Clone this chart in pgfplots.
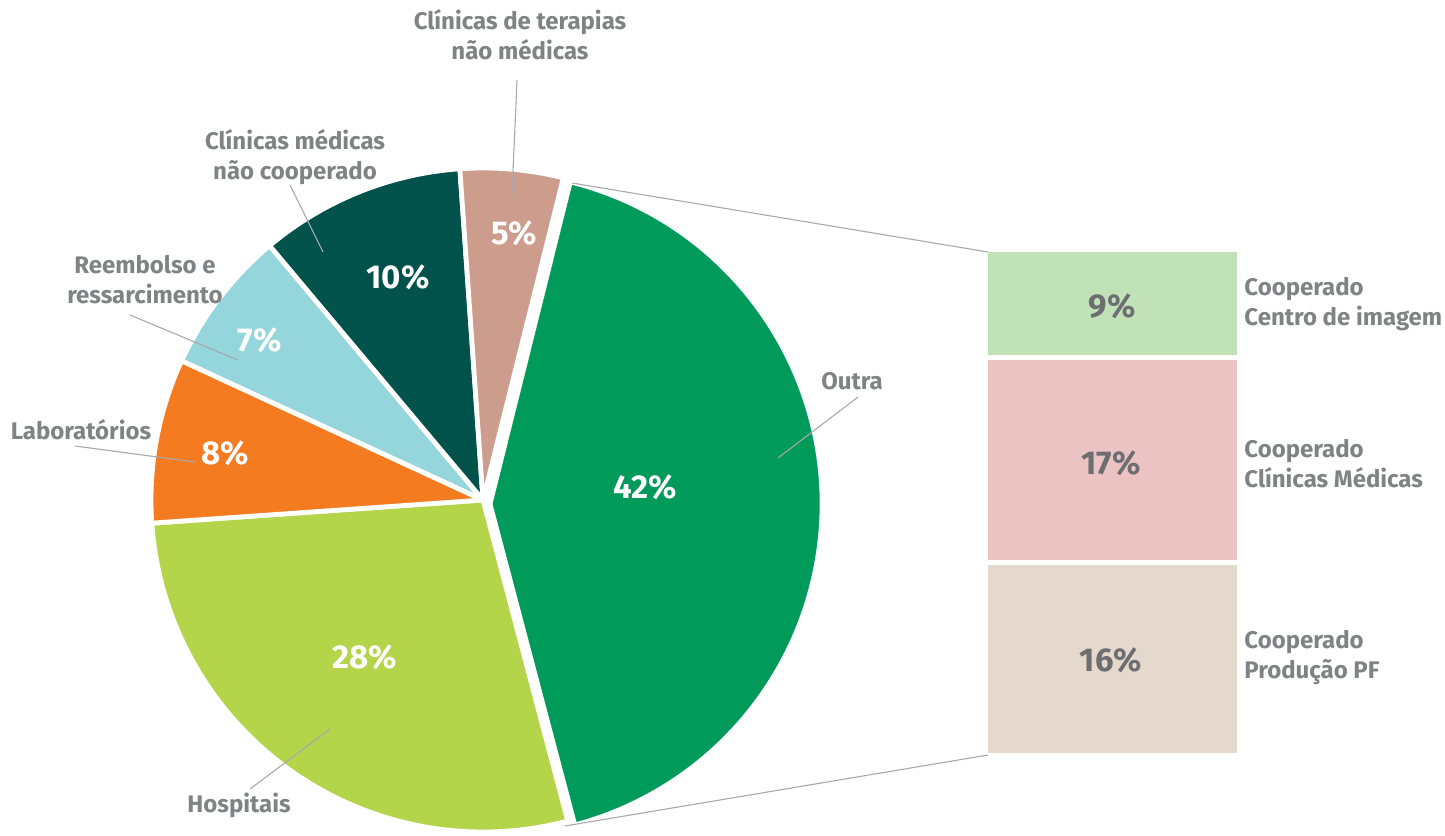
\documentclass[border=0pt]{standalone}
\usepackage{fontspec}
\setmainfont{Fira Sans}
\usepackage{pgfplots}
\usepackage{pgfplotstable}
\pgfplotsset{compat=1.18}

\definecolor{cOutra}{HTML}{009A5B}
\definecolor{cHosp}{HTML}{B4D44A}
\definecolor{cLab}{HTML}{F47B20}
\definecolor{cReemb}{HTML}{95D5DC}
\definecolor{cClin}{HTML}{00524A}
\definecolor{cTer}{HTML}{CC9D8C}
\definecolor{cCI}{HTML}{C1E1B7}
\definecolor{cCM}{HTML}{EBC3C2}
\definecolor{cPF}{HTML}{E4D9CC}
\definecolor{txtgray}{HTML}{808285}
\definecolor{bargray}{HTML}{6D6E71}
\definecolor{linegray}{HTML}{A7A9AC}

% fatias da pizza (sentido horario a partir do topo)
\pgfplotstableread{
pct col
42  cOutra
28  cHosp
8   cLab
7   cReemb
10  cClin
5   cTer
}\piedata

\tikzset{
  lbl/.style={font=\bfseries\fontsize{12}{15}\selectfont, text=txtgray, align=center, inner sep=0pt},
  pct/.style={font=\bfseries\fontsize{16.5}{19}\selectfont, text=white, inner sep=0pt},
  lead/.style={linegray, line width=0.55pt},
}

\begin{document}
\begin{tikzpicture}
\useasboundingbox (0,0) rectangle (722.5pt,417.5pt);

% barra empilhada de "Outra"
\begin{axis}[
    at={(492.75pt,39.75pt)}, anchor=south west,
    scale only axis, width=127pt, height=253pt,
    xmin=0.5, xmax=1.5, ymin=0, ymax=42,
    enlargelimits=false,
    ybar stacked, bar width=127pt,
    hide axis, clip=false,
]
\addplot[fill=cPF, draw=white, line width=2.5pt] coordinates {(1,16)};
\addplot[fill=cCM, draw=white, line width=2.5pt] coordinates {(1,17)};
\addplot[fill=cCI, draw=white, line width=2.5pt] coordinates {(1,9)};
\end{axis}

% eixo principal: 1 unidade = 1 px da referencia
\begin{axis}[
    at={(0,0)}, anchor=south west,
    scale only axis, width=722.5pt, height=417.5pt,
    xmin=0, xmax=1445, ymin=0, ymax=835,
    hide axis, clip=false,
]
\addplot[draw=none] coordinates {(0,0) (1445,835)};
\pgfplotsextra{
  \pgfplotstablegetrowsof{\piedata}
  \pgfmathtruncatemacro\nrows{\pgfplotsretval-1}
  \gdef\angA{76}
  \foreach \i in {0,...,\nrows}{
    \pgfplotstablegetelem{\i}{pct}\of\piedata \let\v\pgfplotsretval
    \pgfplotstablegetelem{\i}{col}\of\piedata \let\c\pgfplotsretval
    \pgfmathsetmacro\angB{\angA-3.6*\v}
    \ifnum\i=0 \def\sh{(3.5pt,-2pt)}\else\def\sh{(0pt,0pt)}\fi
    \filldraw[fill=\c, draw=white, line width=2.4pt, line join=round, shift={\sh}]
      (axis cs:483,335) -- ++(\angA:166pt)
      arc[start angle=\angA, end angle=\angB, radius=166pt] -- cycle;
    \global\let\angA\angB
  }
  % linhas de ligacao ao bloco
  \draw[lead] (axis cs:572,652) -- (axis cs:988,583);
  \draw[lead] (axis cs:565,9) -- (axis cs:988,80);
  % chamadas
  \draw[lead] (axis cs:517,755) -- (axis cs:512,640);
  \draw[lead] (axis cs:290,650) -- (axis cs:323,583);
  \draw[lead] (axis cs:130,520) -- (axis cs:238,475);
  \draw[lead] (axis cs:75,389) -- (axis cs:195,373);
  \draw[lead] (axis cs:858,438) -- (axis cs:778,377);
  \draw[lead] (axis cs:250,46) -- (axis cs:330,106);
  % percentuais
  \node[pct] at (axis cs:645,348) {42\%};
  \node[pct] at (axis cs:365,178) {28\%};
  \node[pct] at (axis cs:225,382) {8\%};
  \node[pct] at (axis cs:260,495) {7\%};
  \node[pct] at (axis cs:398,558) {10\%};
  \node[pct] at (axis cs:514,602) {5\%};
  \node[pct, text=bargray] at (axis cs:1112,529) {9\%};
  \node[pct, text=bargray] at (axis cs:1111,372) {17\%};
  \node[pct, text=bargray] at (axis cs:1111,175) {16\%};
  % rotulos
  \node[lbl] at (axis cs:520,800) {Clínicas de terapias\\não médicas};
  \node[lbl] at (axis cs:295,678) {Clínicas médicas\\não cooperado};
  \node[lbl] at (axis cs:145,555) {Reembolso e\\ressarcimento};
  \node[lbl] at (axis cs:81,405) {Laboratórios};
  \node[lbl] at (axis cs:852,454) {Outra};
  \node[lbl] at (axis cs:239,30) {Hospitais};
  \node[lbl, align=left, anchor=west] at (axis cs:1244,531) {Cooperado\\Centro de imagem};
  \node[lbl, align=left, anchor=west] at (axis cs:1244,371) {Cooperado\\Clínicas Médicas};
  \node[lbl, align=left, anchor=west] at (axis cs:1244,177) {Cooperado\\Produção PF};
}
\end{axis}
\end{tikzpicture}
\end{document}
